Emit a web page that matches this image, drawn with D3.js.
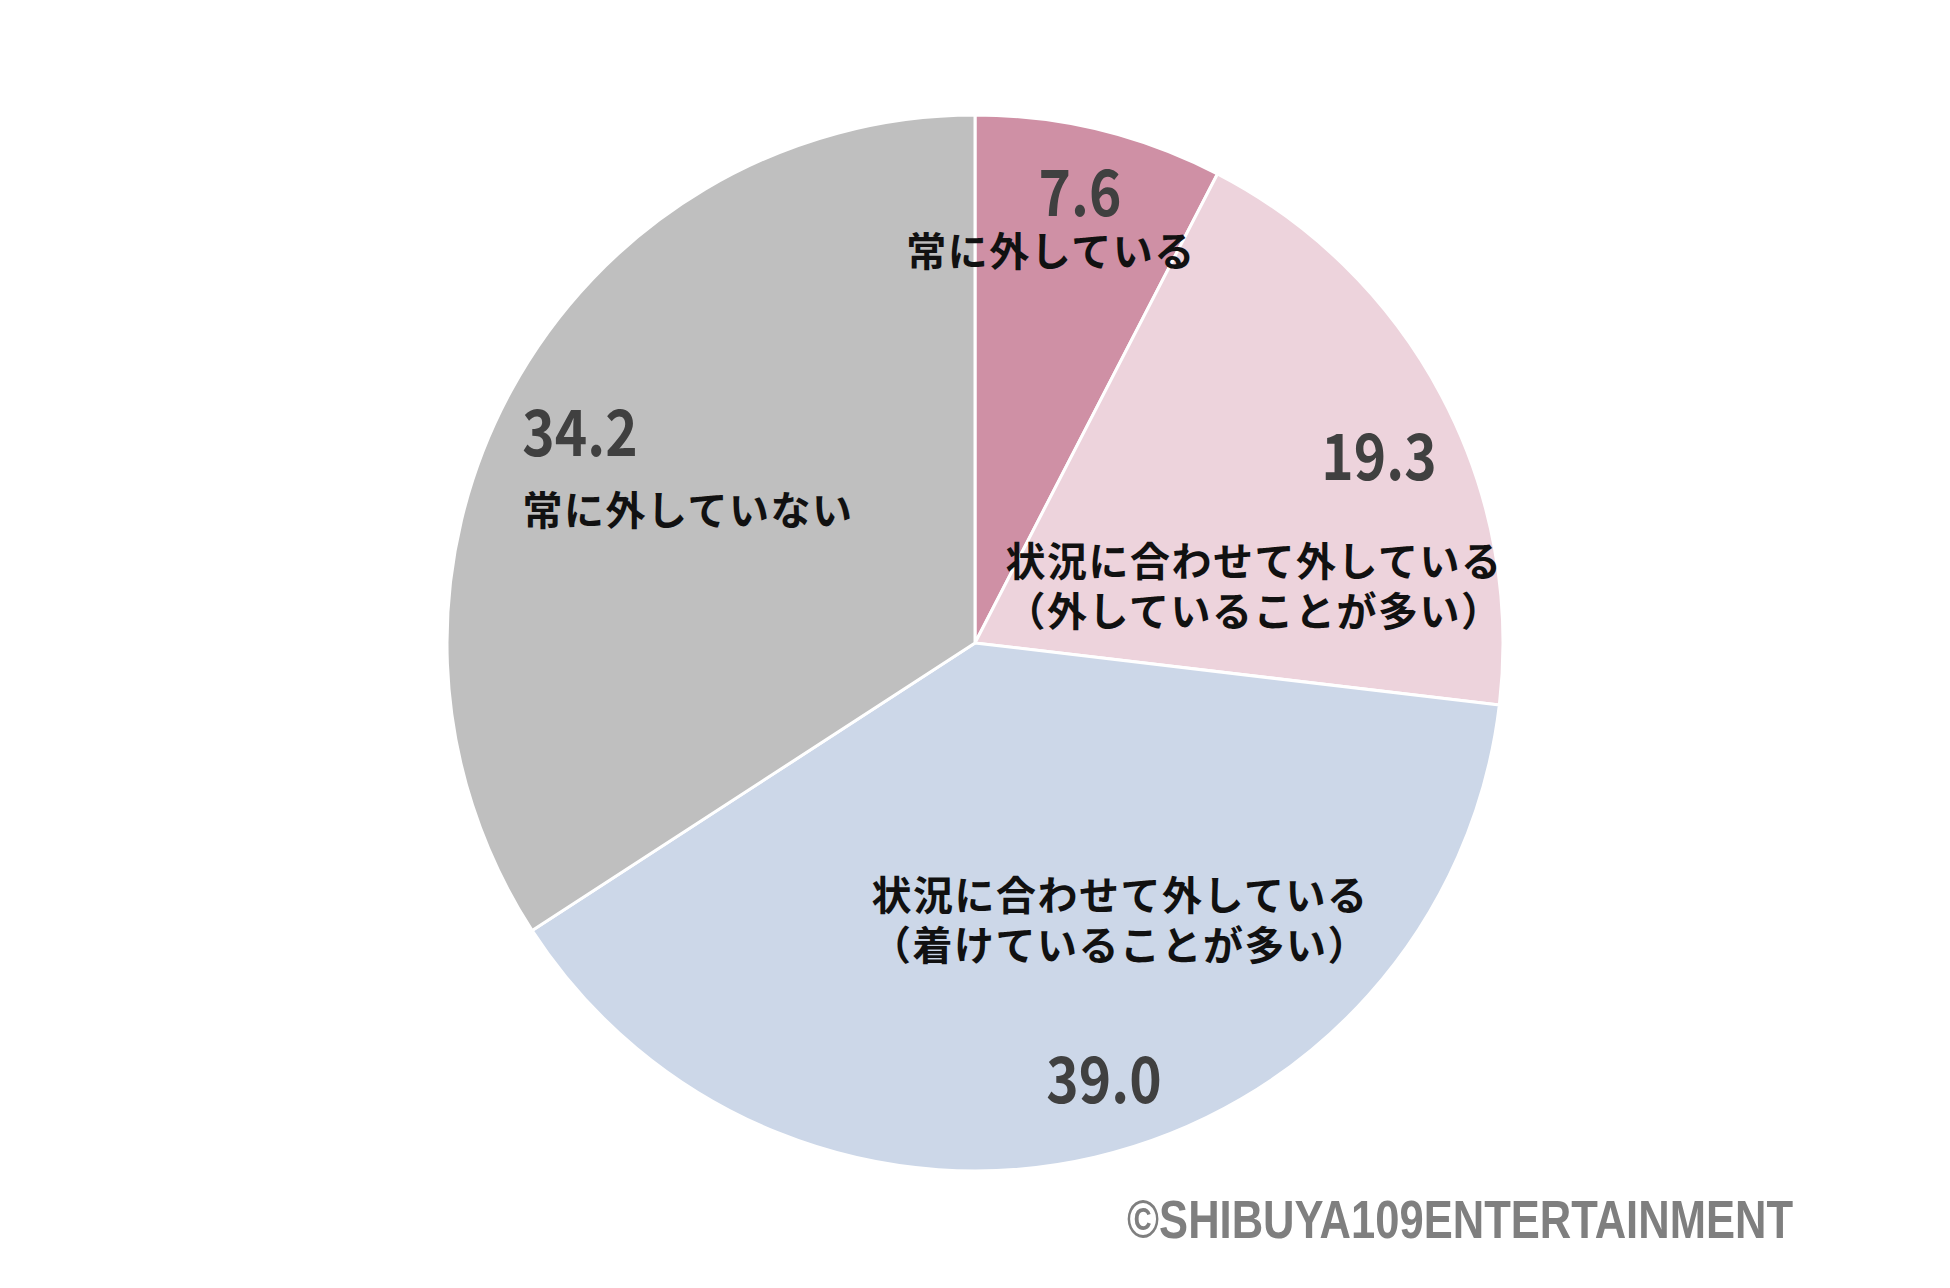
<!DOCTYPE html>
<html>
<head>
  <meta charset="UTF-8">
  <title>Pie chart</title>
  <script src="https://d3js.org/d3.v7.min.js"></script>
  <style>
    body {
      margin: 0;
      padding: 0;
      background: #ffffff;
    }
    svg {
      display: block;
    }
  </style>
</head>
<body>
<svg></svg>

<script>
// data
const categories = ["常に外している", "状況に合わせて外している（外していることが多い）", "状況に合わせて外している（着けていることが多い）", "常に外していない"];
const nameLines = [
  ["常に外している"],
  ["状況に合わせて外している", "（外していることが多い）"],
  ["状況に合わせて外している", "（着けていることが多い）"],
  ["常に外していない"]
];
const values = [7.6, 19.3, 39.0, 34.2];
const colors = ["#cf90a5", "#edd3dc", "#ccd7e8", "#bfbfbf"];
const credit = "©SHIBUYA109ENTERTAINMENT";

// label placement, offsets from pie centre (px)
const valueOffsets = [[105, -450], [404, -186], [129, 437], [-395, -210]];
const nameOffsets = [[76, -392], [279, -82], [145, 252], [-287, -133]];
const lineGap = 50;

let width = 1950, height = 1288;
let cx = 975, cy = 643, radius = 528;

let svg = d3.select("svg").attr("width", width).attr("height", height);

let pie = d3.pie().sort(null).value(d => d);
let arc = d3.arc().innerRadius(0).outerRadius(radius);

let g = svg.append("g").attr("transform", `translate(${cx}, ${cy})`);

// slices
g.selectAll("path")
  .data(pie(values))
  .join("path")
  .attr("d", arc)
  .attr("fill", (d, i) => colors[i])
  .attr("stroke", "#ffffff")
  .attr("stroke-width", 3)
  .attr("stroke-linejoin", "round");

// value labels
let numSize = 64;
g.selectAll("text.value")
  .data(values)
  .join("text")
  .attr("class", "value")
  .attr("transform", (d, i) => `translate(${valueOffsets[i][0]}, ${valueOffsets[i][1] + numSize * 0.36}) scale(0.86, 1)`)
  .attr("text-anchor", "middle")
  .style("font-family", "'Noto Sans CJK JP', 'Noto Sans', sans-serif")
  .style("font-weight", "bold")
  .style("font-size", numSize + "px")
  .style("fill", "#404040")
  .text(d => d.toFixed(1));

// category labels
let nameSize = 40;
nameLines.forEach((lines, i) => {
  lines.forEach((line, j) => {
    g.append("text")
      .attr("x", nameOffsets[i][0])
      .attr("y", nameOffsets[i][1] + j * lineGap + nameSize * 0.38)
      .attr("text-anchor", "middle")
      .style("font-family", "'Noto Sans CJK JP', sans-serif")
      .style("font-weight", "bold")
      .style("font-size", nameSize + "px")
      .style("letter-spacing", "1.5px")
      .style("fill", "#111111")
      .text(line);
  });
});

// credit line
svg.append("text")
  .attr("x", 1127)
  .attr("y", 1238)
  .attr("textLength", 666)
  .attr("lengthAdjust", "spacingAndGlyphs")
  .style("font-family", "'Liberation Sans', Arial, sans-serif")
  .style("font-weight", "bold")
  .style("font-size", "53px")
  .style("fill", "#7f7f7f")
  .text(credit);
</script>

</body>
</html>
